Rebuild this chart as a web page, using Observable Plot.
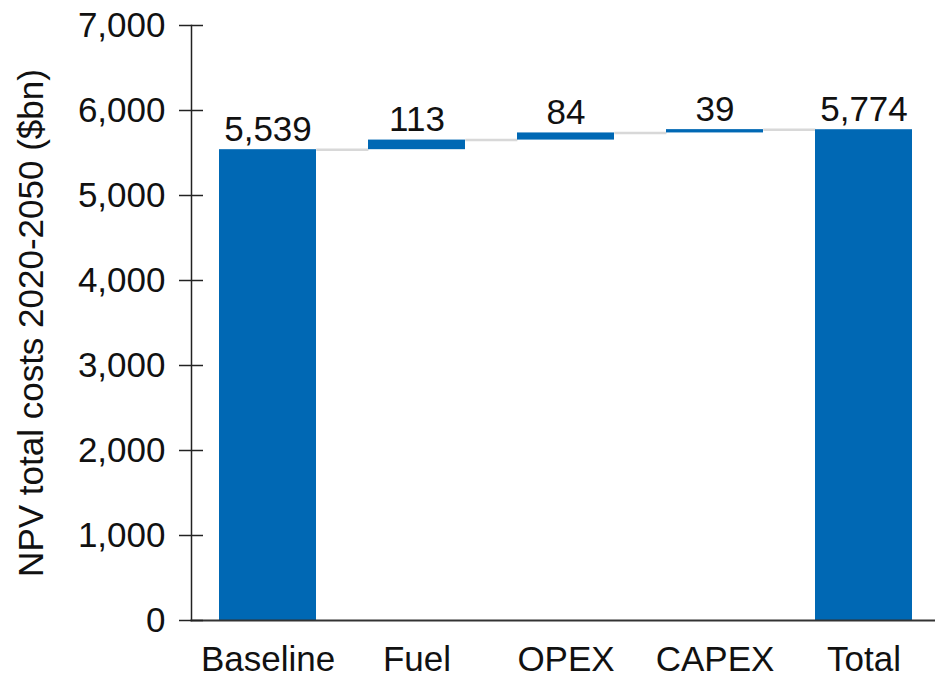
<!DOCTYPE html>
<html>
<head>
<meta charset="utf-8">
<script src="https://cdn.jsdelivr.net/npm/d3@7"></script>
<script src="https://cdn.jsdelivr.net/npm/@observablehq/plot@0.6"></script>
<style>
  html, body { margin: 0; padding: 0; background: #fff; }
  #chart svg { display: block; }
</style>
</head>
<body>
<div id="chart"></div>
<script>
// Waterfall of NPV total costs: baseline, three increments, total
const categories = ["Baseline", "Fuel", "OPEX", "CAPEX", "Total"];
const values = [5539, 113, 84, 39, 5774];
const kinds = ["total", "delta", "delta", "delta", "total"];
const yTicks = [0, 1000, 2000, 3000, 4000, 5000, 6000, 7000];
const yLabel = "NPV total costs 2020-2050 ($bn)";

// running totals give each bar its bottom and top
let running = 0;
const bars = categories.map((c, i) => {
  let y1, y2;
  if (kinds[i] === "total") { y1 = 0; y2 = values[i]; running = values[i]; }
  else { y1 = running; y2 = running + values[i]; running = y2; }
  return {category: c, value: values[i], y1, y2};
});
// connector from each bar's top to the next bar
const connectors = bars.slice(0, -1).map(b => ({category: b.category, level: b.y2}));

const W = 935, H = 678;
const xRange = [191, 939];
const paddingInner = 0.35, paddingOuter = 0.175;
const xs = d3.scaleBand(categories, xRange).paddingInner(paddingInner).paddingOuter(paddingOuter);
const bw = xs.bandwidth(), step = xs.step();

const font = "'Liberation Sans', Arial, sans-serif";
const blue = "#0068b4";

const chart = Plot.plot({
  width: W,
  height: H,
  marginLeft: 191,
  marginRight: 0,
  marginTop: 25,
  marginBottom: 58,
  style: {fontFamily: font, fontSize: "35px", color: "#111", background: "#fff"},
  x: {domain: categories, range: xRange, paddingInner, paddingOuter, label: null},
  y: {domain: [0, 7000], label: null},
  marks: [
    // connectors in the gaps between bars
    Plot.tickY(connectors, {
      x: "category", y: "level",
      dx: bw, insetRight: 2 * bw - step,
      stroke: "#d8d8d8", strokeWidth: 2.5
    }),
    Plot.rectY(bars, {x: "category", y1: "y1", y2: "y2", fill: blue}),
    Plot.text(bars, {
      x: "category", y: "y2",
      text: d => d3.format(",")(d.value),
      lineAnchor: "bottom", dy: -9,
      fontSize: 35, fill: "#111"
    }),
    // axis lines
    Plot.frame({anchor: "left", stroke: "#222", strokeWidth: 1.5}),
    Plot.frame({anchor: "bottom", stroke: "#333", strokeWidth: 2}),
    // y ticks crossing the axis line
    Plot.ruleY(yTicks, {
      y: d => d, dx: -12, insetRight: W - 191 - 24,
      stroke: "#222", strokeWidth: 1.5
    }),
    Plot.axisY(yTicks, {
      tickSize: 0, tickPadding: 26,
      tickFormat: d3.format(","), fontSize: 35, label: null
    }),
    Plot.axisX({tickSize: 0, tickPadding: 26, fontSize: 35, label: null}),
    Plot.text([yLabel], {
      frameAnchor: "left", rotate: -90, dx: -160,
      lineAnchor: "middle", textAnchor: "middle",
      fontSize: 35, fill: "#111"
    })
  ]
});

document.getElementById("chart").appendChild(chart);
</script>
</body>
</html>
